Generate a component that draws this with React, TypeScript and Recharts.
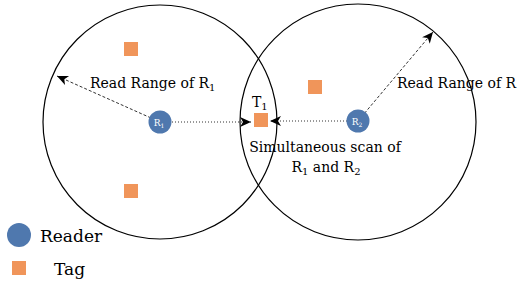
import React from "react";
import { ScatterChart, Scatter, XAxis, YAxis, ReferenceLine } from "recharts";

// diagram coordinates (x right, y down, same units as the 520x283 canvas)
const rangeCircles = [
  { x: 160, y: 122, r: 117 },
  { x: 358, y: 122, r: 118 },
];

const readers = [
  { x: 160, y: 122, name: "R", sub: "1" },
  { x: 358, y: 121, name: "R", sub: "2" },
];

const tags = [
  { x: 131, y: 49 },
  { x: 131, y: 191 },
  { x: 261, y: 120 },
  { x: 315, y: 87 },
];

const arrows = [
  { from: [160, 122], to: [57, 76], dash: "3 2" },
  { from: [172, 122], to: [251, 122], dash: "1 2" },
  { from: [347, 121], to: [270, 121], dash: "1 2" },
  { from: [358, 121], to: [433, 32], dash: "3 2" },
];

const labels = [
  { x: 90, y: 88, text: "Read Range of R", sub: "1", anchor: "start" },
  { x: 252, y: 107, text: "T", sub: "1", anchor: "start" },
  { x: 397, y: 88, text: "Read Range of R", sub: "", anchor: "start" },
  { x: 325, y: 152, text: "Simultaneous scan of", sub: "", anchor: "middle" },
  { x: 326, y: 172, text: "R", sub: "1", rest: " and R", sub2: "2", anchor: "middle" },
];

const legendItems = [
  { x: 19, y: 235, kind: "reader", text: "Reader", tx: 40 },
  { x: 19, y: 268, kind: "tag", text: "Tag", tx: 54 },
];

const BLUE = "#4f78ae";
const ORANGE = "#f0955a";
const FONT = "DejaVu Serif";

const arrowHeads = arrows.map((a) => ({
  x: a.to[0],
  y: a.to[1],
  angle: Math.atan2(a.to[1] - a.from[1], a.to[0] - a.from[0]),
}));

function RangeShape(props: any) {
  const { cx, cy, payload } = props;
  return <circle cx={cx} cy={cy} r={payload.r} fill="none" stroke="#000" strokeWidth={1.2} />;
}

function HeadShape(props: any) {
  const { cx, cy, payload } = props;
  const deg = (payload.angle * 180) / Math.PI;
  return (
    <path
      d="M0,0 L-11,-5 L-8,0 L-11,5 Z"
      transform={`translate(${cx},${cy}) rotate(${deg})`}
      fill="#000"
    />
  );
}

function TagShape(props: any) {
  const { cx, cy } = props;
  return <rect x={cx - 7} y={cy - 7} width={14} height={14} fill={ORANGE} />;
}

function ReaderShape(props: any) {
  const { cx, cy, payload } = props;
  return (
    <g>
      <circle cx={cx} cy={cy} r={11.5} fill={BLUE} />
      <text x={cx - 1} y={cy + 4} textAnchor="middle" fill="#fff" fontFamily={FONT} fontSize={9}>
        {payload.name}
        <tspan fontSize={6} dy={2}>{payload.sub}</tspan>
      </text>
    </g>
  );
}

function LabelShape(props: any) {
  const { cx, cy, payload } = props;
  return (
    <text x={cx} y={cy} textAnchor={payload.anchor} fill="#000" fontFamily={FONT} fontSize={14}>
      {payload.text}
      {payload.sub && (
        <tspan fontSize={10} dy={3}>
          {payload.sub}
        </tspan>
      )}
      {payload.rest && <tspan dy={-3}>{payload.rest}</tspan>}
      {payload.sub2 && (
        <tspan fontSize={10} dy={3}>
          {payload.sub2}
        </tspan>
      )}
    </text>
  );
}

function LegendShape(props: any) {
  const { cx, cy, payload } = props;
  return (
    <g>
      {payload.kind === "reader" ? (
        <circle cx={cx} cy={cy} r={12} fill={BLUE} />
      ) : (
        <rect x={cx - 7} y={cy - 7} width={14} height={14} fill={ORANGE} />
      )}
      <text x={payload.tx} y={cy + 7} fill="#000" fontFamily={FONT} fontSize={17}>
        {payload.text}
      </text>
    </g>
  );
}

export default function App() {
  return (
    <div
      style={{
        position: "absolute",
        left: 0,
        top: 0,
        width: 520,
        height: 283,
        background: "#fff",
        overflow: "hidden",
      }}
    >
      <ScatterChart width={520} height={283} margin={{ top: 0, right: 0, bottom: 0, left: 0 }}>
        <XAxis type="number" dataKey="x" domain={[0, 520]} hide />
        <YAxis type="number" dataKey="y" domain={[0, 283]} reversed hide />
        <Scatter data={rangeCircles} shape={RangeShape} isAnimationActive={false} />
        {arrows.map((a, i) => (
          <ReferenceLine
            key={i}
            segment={[
              { x: a.from[0], y: a.from[1] },
              { x: a.to[0], y: a.to[1] },
            ]}
            stroke="#333"
            strokeWidth={1}
            strokeDasharray={a.dash}
            ifOverflow="visible"
          />
        ))}
        <Scatter data={arrowHeads} shape={HeadShape} isAnimationActive={false} />
        <Scatter data={tags} shape={TagShape} isAnimationActive={false} />
        <Scatter data={readers} shape={ReaderShape} isAnimationActive={false} />
        <Scatter data={labels} shape={LabelShape} isAnimationActive={false} />
        <Scatter data={legendItems} shape={LegendShape} isAnimationActive={false} />
      </ScatterChart>
    </div>
  );
}
